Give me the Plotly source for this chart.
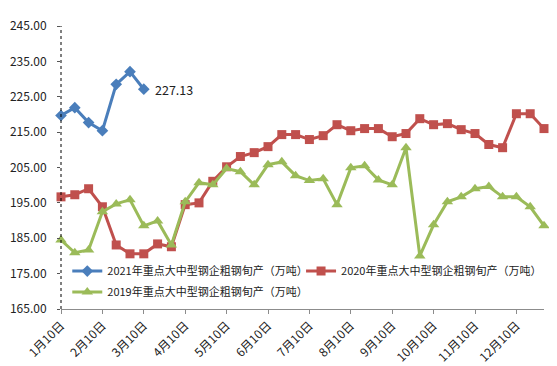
import plotly.graph_objects as go

# ten-day periods (旬)
month_end = [31, 28, 31, 30, 31, 30, 31, 31, 30, 31, 30, 31]
categories = []
for m in range(1, 13):
    categories += [f"{m}月10日", f"{m}月20日", f"{m}月{month_end[m-1]}日"]

tick_labels = [f"{m}月10日" for m in range(1, 13)]

s2021_name = "2021年重点大中型钢企粗钢旬产（万吨）"
s2020_name = "2020年重点大中型钢企粗钢旬产（万吨）"
s2019_name = "2019年重点大中型钢企粗钢旬产（万吨）"

s2021 = [219.7, 221.9, 217.7, 215.4, 228.5, 232.1, 227.13]
s2020 = [196.7, 197.3, 199.0, 193.9, 183.1, 180.6, 180.6, 183.4, 182.6, 194.5,
         195.0, 201.1, 205.2, 208.1, 209.2, 210.9, 214.3, 214.3, 212.9, 214.0,
         217.1, 215.4, 216.0, 216.0, 213.7, 214.6, 218.8, 217.1, 217.4, 215.7,
         214.6, 211.5, 210.6, 220.2, 220.2, 216.0]
s2019 = [184.5, 180.9, 181.7, 192.5, 194.7, 195.9, 188.5, 189.9, 183.1, 195.3,
         200.7, 200.1, 204.7, 203.8, 200.1, 205.8, 206.6, 202.7, 201.3, 201.8,
         194.5, 204.9, 205.5, 201.5, 200.1, 210.6, 180.0, 188.8, 195.3, 196.7,
         199.0, 199.6, 196.7, 196.7, 193.9, 188.5]

y_ticks = [165, 175, 185, 195, 205, 215, 225, 235, 245]

FONT = "Noto Sans CJK SC"
BLUE = "#4A7EBB"
RED = "#C0504D"
GREEN = "#9BBB59"
TXT = "#222222"

fig = go.Figure()
fig.add_trace(go.Scatter(
    x=categories[:len(s2021)], y=s2021, name=s2021_name, mode="lines+markers",
    line=dict(color=BLUE, width=3), marker=dict(symbol="diamond", size=9, color=BLUE),
    cliponaxis=False, legend="legend"))
fig.add_trace(go.Scatter(
    x=categories, y=s2020, name=s2020_name, mode="lines+markers",
    line=dict(color=RED, width=3), marker=dict(symbol="square", size=9, color=RED),
    cliponaxis=False, legend="legend3"))
fig.add_trace(go.Scatter(
    x=categories, y=s2019, name=s2019_name, mode="lines+markers",
    line=dict(color=GREEN, width=3), marker=dict(symbol="triangle-up", size=10, color=GREEN),
    cliponaxis=False, legend="legend2"))

fig.add_annotation(x=categories[len(s2021) - 1], y=s2021[-1], xref="x", yref="y",
                   text=f"{s2021[-1]:.2f}", showarrow=False, xanchor="left",
                   xshift=9, font=dict(family=FONT, size=12.5, color=TXT))

# dotted vertical axis line
fig.add_shape(type="line", xref="paper", yref="paper", x0=0, x1=0, y0=0, y1=1,
              line=dict(color="black", width=1, dash="dot"))

leg_common = dict(orientation="h", xanchor="left", yanchor="middle",
                  font=dict(family=FONT, size=11, color=TXT),
                  bgcolor="rgba(0,0,0,0)", itemwidth=30)

fig.update_layout(
    width=557, height=366,
    margin=dict(l=53, r=21, t=18, b=65, autoexpand=False),
    paper_bgcolor="white", plot_bgcolor="white",
    font=dict(family=FONT, size=12, color=TXT),
    showlegend=True,
    legend=dict(x=0.013, y=0.134, **leg_common),
    legend3=dict(x=0.497, y=0.134, **leg_common),
    legend2=dict(x=0.013, y=0.06, **leg_common),
)

fig.update_xaxes(
    type="category", categoryorder="array", categoryarray=categories,
    range=[0, len(categories) - 1],
    tickmode="array", tickvals=tick_labels, ticktext=tick_labels,
    tickangle=-45, tickfont=dict(family=FONT, size=12, color=TXT),
    showline=True, linecolor="#8C8C8C", linewidth=1,
    ticks="outside", ticklen=4, tickcolor="#8C8C8C",
    showgrid=False, zeroline=False, automargin=False,
)
fig.update_yaxes(
    range=[165, 245], tickmode="array", tickvals=y_ticks,
    ticktext=[f"{v:.2f}" for v in y_ticks],
    tickfont=dict(family=FONT, size=12, color=TXT),
    showline=False, ticks="outside", ticklen=3, tickcolor="#555555",
    ticklabelstandoff=8,
    showgrid=False, zeroline=False, automargin=False,
)

fig.write_html("out.html")
